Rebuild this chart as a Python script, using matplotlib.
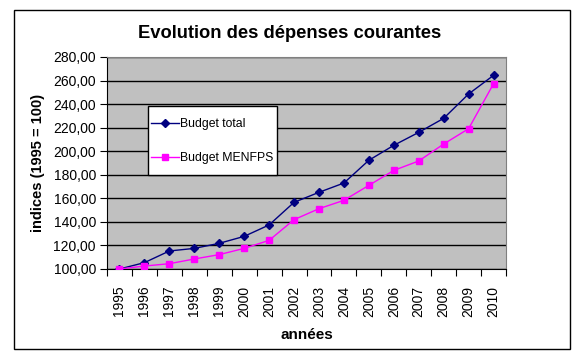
import matplotlib.pyplot as plt
import numpy as np
from matplotlib.patches import Rectangle
from matplotlib.ticker import FixedLocator, FuncFormatter

plt.rcParams['font.family'] = ['Liberation Sans', 'DejaVu Sans']

years = [str(y) for y in range(1995, 2011)]
budget_total = [100.0, 105.4, 115.3, 117.5, 121.8, 127.7, 137.4, 156.6,
                165.1, 173.0, 192.3, 205.0, 216.0, 227.9, 248.6, 264.4]
budget_menfps = [100.0, 102.5, 104.5, 108.5, 112.2, 117.5, 124.3, 141.9,
                 151.2, 158.3, 171.0, 183.7, 191.7, 206.1, 219.1, 257.3]
y_ticks = list(range(100, 281, 20))

fig = plt.figure(figsize=(5.85, 3.56), dpi=100)
W, H = 585, 356

# outer chart border
fig.patches.append(Rectangle((14 / W, 1 - 349 / H), 556 / W, 339 / H,
                             transform=fig.transFigure, fill=False,
                             edgecolor='black', linewidth=1))

ax = fig.add_axes([107 / W, 1 - 269 / H, 399 / W, 212 / H])
ax.set_facecolor('#c0c0c0')

x = list(range(len(years)))
ax.plot(x, budget_total, color='#000080', marker='D', markersize=4,
        linewidth=1, label='Budget total', zorder=3)
ax.plot(x, budget_menfps, color='#ff00ff', marker='s', markersize=5,
        linewidth=1, label='Budget MENFPS', zorder=3)

ax.set_xlim(-0.5, len(years) - 0.5)
ax.set_ylim(100, 280)
ax.yaxis.set_major_locator(FixedLocator(y_ticks))
ax.yaxis.set_major_formatter(FuncFormatter(lambda v, p: f"{v:.2f}".replace('.', ',')))
ax.grid(axis='y', color='black', linewidth=1)
ax.set_axisbelow(True)

# category ticks between points, labels at the points
ax.set_xticks([i - 0.5 for i in range(len(years) + 1)])
ax.set_xticklabels([])
ax.set_xticks(x, minor=True)
ax.set_xticklabels(years, minor=True, rotation=90, fontsize=10)
ax.tick_params(axis='x', which='minor', length=0, pad=12)
ax.tick_params(axis='x', which='major', length=5, direction='out', color='black')
ax.tick_params(axis='y', length=5, direction='out', labelsize=10, pad=3)

for side in ['top', 'right']:
    ax.spines[side].set_color('#808080')
for side in ['left', 'bottom']:
    ax.spines[side].set_color('black')

ax.set_xlabel('années', fontsize=11, fontweight='bold', labelpad=8)
ax.set_ylabel('indices (1995 = 100)', fontsize=10.5, fontweight='bold', labelpad=6)
fig.text(290 / W, 1 - 33 / H, 'Evolution des dépenses courantes',
         ha='center', va='center', fontsize=13.2, fontweight='bold')

leg = ax.legend(loc='upper left', bbox_to_anchor=(148 / W, 1 - 106 / H),
                bbox_transform=fig.transFigure, fontsize=8.8, labelspacing=0.4,
                handlelength=2.3, handleheight=3.3, handletextpad=0.1,
                borderpad=0.25, borderaxespad=0, fancybox=False,
                framealpha=1, edgecolor='black')
leg.get_frame().set_linewidth(1)
# tall rows put the marker line above the text, bring it down level
for h in leg.legend_handles:
    h.set_ydata(np.asarray(h.get_ydata()) - 3.5)

fig.savefig('out.png', dpi=100)
